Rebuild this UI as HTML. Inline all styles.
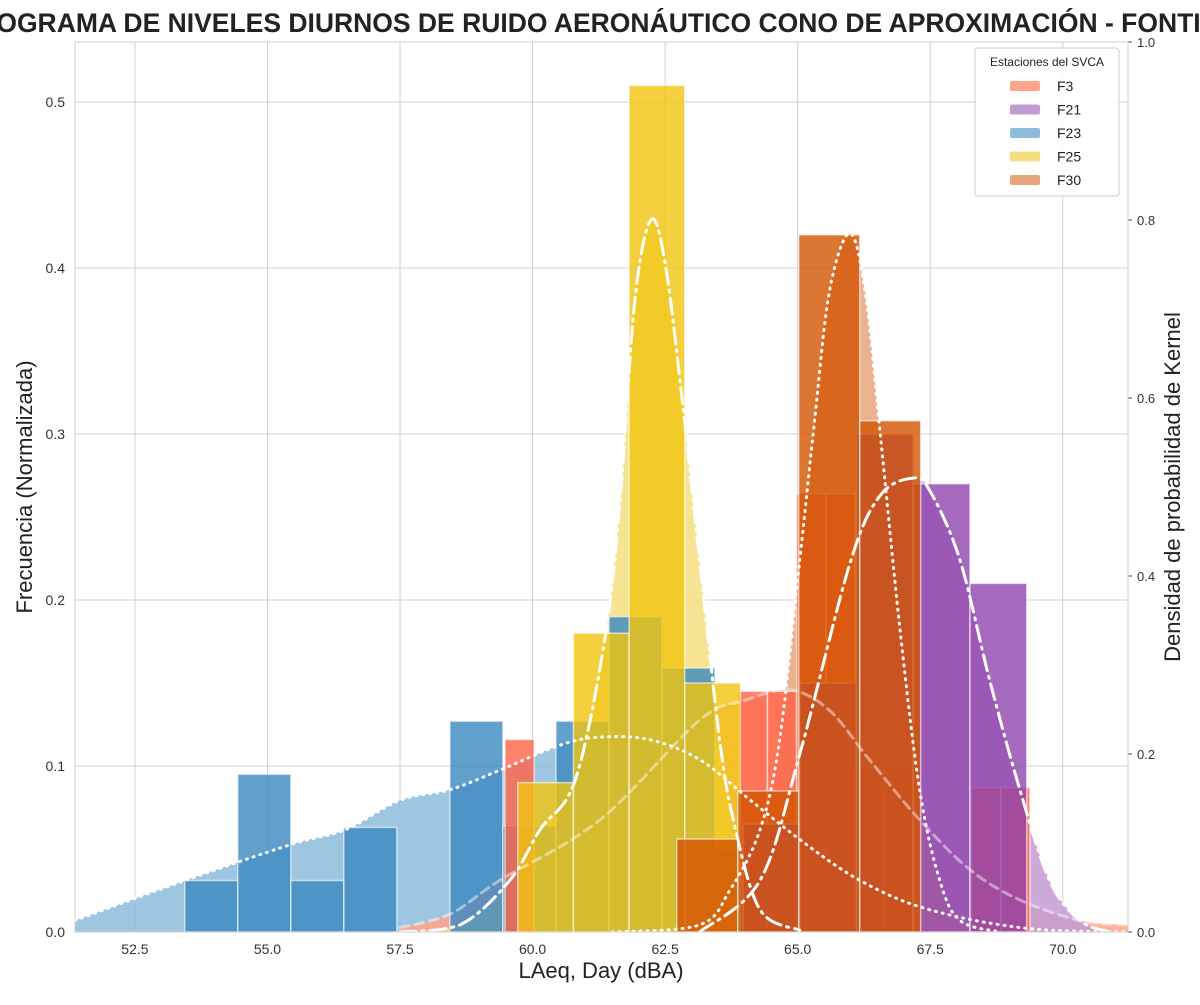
<!DOCTYPE html>
<html><head><meta charset="utf-8"><style>
body{margin:0;background:#fff;}
svg text{font-family:"Liberation Sans",Arial,sans-serif;}
</style></head><body>
<svg id="chart" width="1200" height="1000" xmlns="http://www.w3.org/2000/svg">
<text x="598" y="32" text-anchor="middle" font-size="26.5" font-weight="bold" fill="#222">HISTOGRAMA DE NIVELES DIURNOS DE RUIDO AERONÁUTICO CONO DE APROXIMACIÓN - FONTIBÓN</text>
<g id="grid"></g>
<g id="fills"></g>
<g id="bars"></g>
<g id="lines"></g>
<g id="axes"></g>
<text x="601" y="978" text-anchor="middle" font-size="22" fill="#222">LAeq, Day (dBA)</text>
<text transform="translate(32,487) rotate(-90)" text-anchor="middle" font-size="22" fill="#222">Frecuencia (Normalizada)</text>
<text transform="translate(1180,487) rotate(-90)" text-anchor="middle" font-size="22" fill="#222">Densidad de probabilidad de Kernel</text>
<g>
<rect x="975" y="48" width="144" height="148" rx="3" fill="#fff" fill-opacity="0.85" stroke="#ccc"/>
<text x="1047" y="66" text-anchor="middle" font-size="12" fill="#222">Estaciones del SVCA</text>
<g id="legend-items"></g>
</g>
</svg>
<script>
const xTicks=[52.5,55.0,57.5,60.0,62.5,65.0,67.5,70.0];
const yTicks=[0.0,0.1,0.2,0.3,0.4,0.5];
const y2Ticks=[0.0,0.2,0.4,0.6,0.8,1.0];
const seriesNames=["F3","F21","F23","F25","F30"];
// histogram bins: start, width, heights
const f23Start=53.44, f23Width=1.0;
const f23Heights=[0.031,0.095,0.031,0.063,0,0.127,0.064,0.127,0.19,0.159,0.05,0.03];
const f25Start=59.72, f25Width=1.05;
const f25Heights=[0.09,0.18,0.51,0.15];
const f3Start=59.48, f3Width=0.55;
const f3Heights=[0.116,0,0,0,0,0,0,0,0.145,0.145,0.264,0.264,0.1,0.1,0,0,0.087,0.087];
const f21Start=62.9, f21Width=1.07;
const f21Heights=[0.03,0.065,0.15,0.30,0.27,0.21];
const f30Start=62.72, f30Width=1.15;
const f30Heights=[0.056,0.085,0.42,0.308];
// KDE samples (x in dBA, density on right axis)
const f23KdeX=[51.37,53.45,55.43,56.47,57.5,58.45,59.39,60.52,61.28,62.22,63.17,64.11,65.06,66.0,66.94,67.88,68.83,69.77,71.23];
const f23KdeY=[0.013,0.058,0.098,0.115,0.148,0.160,0.182,0.210,0.219,0.216,0.193,0.148,0.103,0.064,0.036,0.019,0.008,0.002,0.0];
const f25KdeX=[57.5,58.63,59.57,60.14,60.8,61.36,61.65,61.93,62.23,62.49,62.78,63.15,63.53,63.81,64.29,65.04];
const f25KdeY=[0,0.008,0.058,0.115,0.17,0.328,0.485,0.71,0.80,0.755,0.62,0.418,0.215,0.12,0.025,0.002];
const f30KdeX=[61.5,63.15,63.72,64.29,64.66,65.04,65.32,65.6,65.98,66.27,66.55,66.93,67.3,67.68,68.06,68.81];
const f30KdeY=[0,0.008,0.047,0.115,0.216,0.418,0.575,0.72,0.785,0.72,0.564,0.34,0.16,0.058,0.013,0];
const f21KdeX=[63.15,64.29,65.04,65.98,66.55,67.17,67.49,68.06,68.62,69.19,69.75,70.32,70.89];
const f21KdeY=[0,0.058,0.2,0.413,0.49,0.51,0.496,0.418,0.283,0.16,0.058,0.013,0];
const f3KdeX=[57.5,58.44,59.38,61.27,63.15,64.0,64.85,65.6,66.36,67.3,68.25,69.19,70.32,71.23];
const f3KdeY=[0.005,0.02,0.058,0.126,0.238,0.26,0.272,0.249,0.193,0.126,0.07,0.036,0.013,0.008];

const L=75,R=1128,T=42,B=932;
const xMin=51.37,xMax=71.23;
const X=v=>L+(v-xMin)/(xMax-xMin)*(R-L);
const Y=v=>B-v/0.1*166;
const Y2=v=>B-v*890;
const NS="http://www.w3.org/2000/svg";
function mk(tag,attrs,parent){const e=document.createElementNS(NS,tag);for(const k in attrs)e.setAttribute(k,attrs[k]);parent.appendChild(e);return e;}
const grid=document.getElementById('grid'),axes=document.getElementById('axes');
xTicks.forEach(t=>{
  const l=mk('line',{x1:X(t),x2:X(t),y1:T,y2:B,stroke:'#d0d0d0','stroke-width':1},grid);
  
  
  const tx=mk('text',{x:X(t),y:B+22,'text-anchor':'middle','font-size':14,fill:'#333'},axes);
  
  
  tx.textContent=t.toFixed(1);
});
yTicks.forEach(t=>{
  const l=mk('line',{x1:L,x2:R,y1:Y(t),y2:Y(t),stroke:'#d0d0d0','stroke-width':1},grid);
  
  
  const tx=mk('text',{x:L-10,y:Y(t)+5,'text-anchor':'end','font-size':14,fill:'#333'},axes);
  
  
  tx.textContent=t.toFixed(1);
});
y2Ticks.forEach(t=>{
  const tx=mk('text',{x:R+9,y:Y2(t)+5,'font-size':13,fill:'#333'},axes);
  
  
  tx.textContent=t.toFixed(1);
  mk('line',{x1:R,x2:R+4,y1:Y2(t),y2:Y2(t),stroke:'#444'},axes);
});
const fr=mk('rect',{x:L,y:T,width:R-L,height:B-T,fill:'none',stroke:'#cfcfcf'},axes);



function smooth(xs,ys,fy){
  const p=xs.map((x,i)=>[X(x),fy(ys[i])]);
  let d='M'+p[0][0]+','+p[0][1];
  for(let i=0;i<p.length-1;i++){
    const p0=p[i-1]||p[i],p1=p[i],p2=p[i+1],p3=p[i+2]||p2;
    const c1=[p1[0]+(p2[0]-p0[0])/6,p1[1]+(p2[1]-p0[1])/6];
    const c2=[p2[0]-(p3[0]-p1[0])/6,p2[1]-(p3[1]-p1[1])/6];
    d+=` C${c1[0]},${Math.min(B,c1[1])} ${c2[0]},${Math.min(B,c2[1])} ${p2[0]},${p2[1]}`;
  }
  return d;
}
const S=[
 {n:'f23',xs:f23KdeX,ys:f23KdeY,st:f23Start,w:f23Width,h:f23Heights,bar:'#3a87c0',fill:'#8dbcdc',dash:'1 6',lo:1},
 {n:'f3',xs:f3KdeX,ys:f3KdeY,st:f3Start,w:f3Width,h:f3Heights,bar:'#ff6347',fill:'#ffa48c',dash:'9 6',lo:0.45},
 {n:'f21',xs:f21KdeX,ys:f21KdeY,st:f21Start,w:f21Width,h:f21Heights,bar:'#8e44ad',fill:'#c39bd3',dash:'16 6 2 6',lo:1},
 {n:'f25',xs:f25KdeX,ys:f25KdeY,st:f25Start,w:f25Width,h:f25Heights,bar:'#f1c40f',fill:'#f5df80',dash:'16 6 2 6',lo:1},
 {n:'f30',xs:f30KdeX,ys:f30KdeY,st:f30Start,w:f30Width,h:f30Heights,bar:'#d35400',fill:'#e8a47c',dash:'1 6',lo:1}
];
const fills=document.getElementById('fills'),bars=document.getElementById('bars'),lines=document.getElementById('lines');
S.forEach(s=>{
  const d=smooth(s.xs,s.ys,Y2);
  const f=mk('path',{d:d+` L${X(s.xs[s.xs.length-1])},${B} L${X(s.xs[0])},${B} Z`,fill:s.fill,'fill-opacity':0.85},fills);
  
  
});
S.forEach(s=>{
  s.h.forEach((h,i)=>{
    if(!h)return;
    const x0=X(s.st+i*s.w),x1=X(s.st+(i+1)*s.w);
    const r=mk('rect',{x:x0,y:Y(h),width:x1-x0,height:B-Y(h),fill:s.bar,'fill-opacity':0.8,stroke:'#fff','stroke-opacity':0.6,'stroke-width':1.5},bars);
    
    
  });
});
S.forEach(s=>{
  const l=mk('path',{d:smooth(s.xs,s.ys,Y2),fill:'none',stroke:'#fff','stroke-opacity':s.lo,'stroke-width':3,'stroke-dasharray':s.dash,'stroke-linecap':'round'},lines);
  
  
});
const legendColors=['#ffa48c','#c39bd3','#8dbcdc','#f5df80','#e8a47c'];
const li=document.getElementById('legend-items');
seriesNames.forEach((n,i)=>{
  const y=86+i*23.5;
  const r=mk('rect',{x:1010,y:y-5,width:30,height:10,fill:legendColors[i],rx:2},li);
  
  
  const t=mk('text',{x:1057,y:y+5,'font-size':14,fill:'#222'},li);
  
  
  t.textContent=n;
});
</script>
</body></html>
